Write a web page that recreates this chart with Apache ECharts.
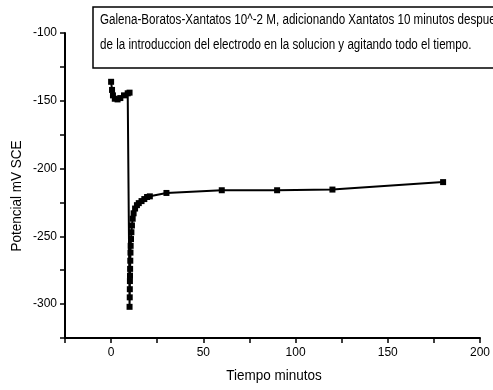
<!DOCTYPE html>
<html>
<head>
<meta charset="utf-8">
<script src="https://cdn.jsdelivr.net/npm/echarts@6/dist/echarts.min.js"></script>
<style>
  html, body { margin: 0; padding: 0; background: #fff; }
  #chart { width: 493px; height: 390px; }
</style>
</head>
<body>
<div id="chart"></div>
<script>
// Time (minutes) and electrode potential (mV vs SCE)
const tiempo = [
  0, 0.5, 1, 2, 3.5, 5, 7, 9, 10,
  10, 10.1, 10.15, 10.2, 10.25, 10.3, 10.4, 10.5, 10.6, 10.8, 11, 11.3, 11.7, 12.2,
  13, 14, 15, 16.5, 18, 19.5, 21, 30, 60, 90, 120, 180
];
const potencial = [
  -136, -142, -146, -148.5, -149, -148, -146, -144.5, -144,
  -302, -295, -289, -283, -279, -274, -268, -262, -257, -252, -247, -242, -237, -233,
  -229.5, -227, -225.5, -224, -222.5, -221, -220.5, -218, -216, -216, -215.5, -210
];

const tituloLineas = [
  'Galena-Boratos-Xantatos 10^-2 M, adicionando Xantatos 10 minutos despues',
  'de la introduccion del electrodo en la solucion y agitando todo el tiempo.'
];
const nombreX = 'Tiempo minutos';
const nombreY = 'Potencial mV SCE';

const fuente = 'Liberation Sans, Arial, sans-serif';

const chart = echarts.init(document.getElementById('chart'));
chart.setOption({
  backgroundColor: '#fff',
  animation: false,
  grid: { left: 65, right: 12, top: 33, bottom: 52 },
  xAxis: {
    type: 'value',
    min: -25, max: 200, interval: 25,
    axisLine: { show: true, onZero: false, lineStyle: { color: '#000', width: 2 } },
    axisTick: { show: true, length: 5, lineStyle: { color: '#000', width: 1.5 } },
    axisLabel: {
      color: '#000', fontFamily: fuente, fontSize: 12, margin: 9,
      formatter: v => (v % 50 === 0 ? String(v) : '')
    },
    splitLine: { show: false }
  },
  yAxis: {
    type: 'value',
    min: -325, max: -100, interval: 25,
    axisLine: { show: true, onZero: false, lineStyle: { color: '#000', width: 2 } },
    axisTick: { show: true, length: 5, lineStyle: { color: '#000', width: 1.5 } },
    axisLabel: {
      color: '#000', fontFamily: fuente, fontSize: 12, margin: 8,
      formatter: v => (v % 50 === 0 ? String(v) : '')
    },
    splitLine: { show: false }
  },
  series: [{
    type: 'line',
    data: tiempo.map((t, i) => [t, potencial[i]]),
    symbol: 'rect',
    symbolSize: 6,
    itemStyle: { color: '#000' },
    lineStyle: { color: '#000', width: 2 },
    z: 2
  }],
  graphic: [
    {
      type: 'rect',
      shape: { x: 93, y: 7, width: 420, height: 61 },
      style: { fill: '#fff', stroke: '#000', lineWidth: 1.5 },
      z: 10
    },
    {
      type: 'text',
      x: 100, y: 13, scaleX: 0.83,
      style: { text: tituloLineas[0], font: '14px ' + fuente, fill: '#000' },
      z: 11
    },
    {
      type: 'text',
      x: 100, y: 38, scaleX: 0.83,
      style: { text: tituloLineas[1], font: '14px ' + fuente, fill: '#000' },
      z: 11
    },
    {
      type: 'text',
      x: 274, y: 376, scaleX: 0.9,
      style: { text: nombreX, font: '15px ' + fuente, fill: '#000', textAlign: 'center', textVerticalAlign: 'middle' },
      z: 11
    },
    {
      type: 'text',
      x: 17, y: 196, rotation: Math.PI / 2, scaleX: 0.9,
      style: { text: nombreY, font: '15px ' + fuente, fill: '#000', textAlign: 'center', textVerticalAlign: 'middle' },
      z: 11
    }
  ]
});
</script>
</body>
</html>
